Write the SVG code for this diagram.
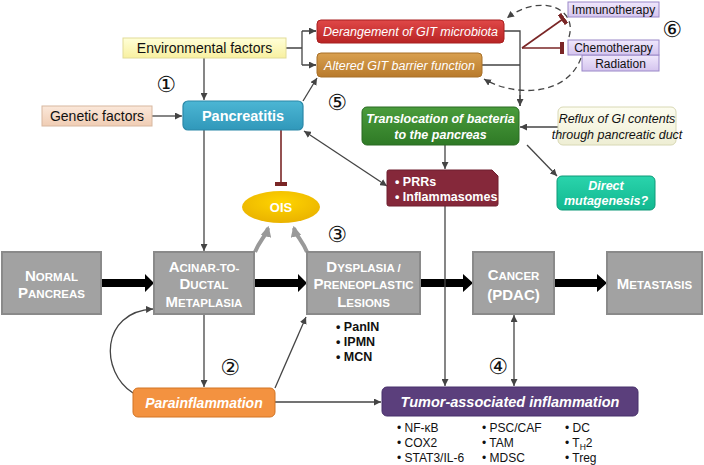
<svg xmlns="http://www.w3.org/2000/svg" width="704" height="465" viewBox="0 0 704 465">
<defs>
<style>
text{font-family:"Liberation Sans",Arial,sans-serif;}
.w{fill:#fff;font-weight:bold;}
.wi{fill:#fff;font-weight:bold;font-style:italic;}
.gbox{fill:#a2a2a2;stroke:#8a8a8a;stroke-width:2;}
.big{font-size:15px;}
.sm{font-size:11.5px;}
.con{fill:none;stroke:#444;stroke-width:1.3;}
.inh{fill:none;stroke:#7a2626;stroke-width:1.6;}
.num{font-family:"DejaVu Sans",sans-serif;font-size:22px;fill:#111;text-anchor:middle;}
.lst{font-size:12px;fill:#111;}
.blk{fill:#000;}
</style>
<linearGradient id="gRed" x1="0" y1="0" x2="0" y2="1"><stop offset="0" stop-color="#e04848"/><stop offset="1" stop-color="#b82424"/></linearGradient>
<linearGradient id="gTan" x1="0" y1="0" x2="0" y2="1"><stop offset="0" stop-color="#d9a050"/><stop offset="1" stop-color="#b87a2c"/></linearGradient>
<linearGradient id="gGreen" x1="0" y1="0" x2="0" y2="1"><stop offset="0" stop-color="#4a9c3c"/><stop offset="1" stop-color="#2f7a26"/></linearGradient>
<linearGradient id="gBlue" x1="0" y1="0" x2="0" y2="1"><stop offset="0" stop-color="#4cb6d4"/><stop offset="1" stop-color="#3098ba"/></linearGradient>
<linearGradient id="gYel" x1="0" y1="0" x2="0" y2="1"><stop offset="0" stop-color="#ffffd8"/><stop offset="1" stop-color="#f8f0a0"/></linearGradient>
<linearGradient id="gPeach" x1="0" y1="0" x2="0" y2="1"><stop offset="0" stop-color="#fbe8da"/><stop offset="1" stop-color="#f0cdb4"/></linearGradient>
<linearGradient id="gLav" x1="0" y1="0" x2="0" y2="1"><stop offset="0" stop-color="#f0e8fc"/><stop offset="1" stop-color="#d4c4ee"/></linearGradient>
<linearGradient id="gCream" x1="0" y1="0" x2="0" y2="1"><stop offset="0" stop-color="#fdfdf0"/><stop offset="1" stop-color="#eeeed4"/></linearGradient>
<radialGradient id="gOIS" cx="0.5" cy="0.35" r="0.7"><stop offset="0" stop-color="#ffd400"/><stop offset="1" stop-color="#e8b000"/></radialGradient>
<linearGradient id="gTeal" x1="0" y1="0" x2="0" y2="1"><stop offset="0" stop-color="#2ad4ac"/><stop offset="1" stop-color="#12b890"/></linearGradient>
<marker id="ar" viewBox="0 0 10 10" refX="10" refY="5" markerWidth="7" markerHeight="7" markerUnits="userSpaceOnUse" orient="auto-start-reverse"><path d="M0,0 L10,5 L0,10 z" fill="#444"/></marker>
<marker id="arG" viewBox="0 0 10 10" refX="8" refY="5" markerWidth="11" markerHeight="11" markerUnits="userSpaceOnUse" orient="auto"><path d="M0,0 L10,5 L0,10 z" fill="#999"/></marker>
<marker id="bar" viewBox="0 0 4 12" refX="2" refY="6" markerWidth="4" markerHeight="12" markerUnits="userSpaceOnUse" orient="auto"><rect x="0" y="0" width="4" height="12" fill="#7a2626"/></marker>
</defs>
<rect width="704" height="465" fill="#fff"/>

<g id="connectors">
<path class="con" d="M204,58 V100" marker-end="url(#ar)"/>
<path class="con" d="M152,116 H182" marker-end="url(#ar)"/>
<path class="con" d="M286,48 H302 M302,31 V65 M302,31 H316 M302,65 H316" />
<path class="con" d="M309,31 H316" marker-end="url(#ar)"/>
<path class="con" d="M309,65 H316" marker-end="url(#ar)"/>
<path class="con" d="M303,101 L317,78" marker-end="url(#ar)"/>
<path class="con" d="M504,31 H520 V106 M482,65 H520"/>
<path class="con" d="M520,95 V106" marker-end="url(#ar)"/>
<path class="con" d="M558,127 H520" marker-end="url(#ar)"/>
<path class="con" d="M445,145 V169" marker-end="url(#ar)"/>
<path class="con" d="M527,145 L557,176" marker-end="url(#ar)"/>
<path class="con" d="M304,131 L387,186" marker-start="url(#ar)" marker-end="url(#ar)"/>
<path class="con" d="M204,130 V251" marker-end="url(#ar)"/>
<path class="inh" d="M281,130 V184" marker-end="url(#bar)"/>
<path class="inh" d="M522,48 L563,19" marker-end="url(#bar)"/>
<path class="inh" d="M522,48 H562" marker-end="url(#bar)"/>
<path d="M569,37 C578,6 538,-6 507,18" fill="none" stroke="#444" stroke-width="1.3" stroke-dasharray="6,4" marker-end="url(#ar)"/>
<path d="M581,58 C566,98 512,96 484,79" fill="none" stroke="#444" stroke-width="1.3" stroke-dasharray="6,4" marker-end="url(#ar)"/>
<path d="M255,252 C260,240 266,236 268,228" fill="none" stroke="#999" stroke-width="4" marker-end="url(#arG)"/>
<path d="M307,252 C302,240 296,236 294,228" fill="none" stroke="#999" stroke-width="4" marker-end="url(#arG)"/>
<polygon class="blk" points="101,279 145,279 145,274 154,283 145,292 145,287 101,287"/>
<polygon class="blk" points="254,279 298,279 298,274 307,283 298,292 298,287 254,287"/>
<polygon class="blk" points="420,279 463,279 463,274 473,283 463,292 463,287 420,287"/>
<polygon class="blk" points="554,279 597,279 597,274 607,283 597,292 597,287 554,287"/>
<path class="con" d="M204,314 V387" marker-end="url(#ar)"/>
<path class="con" d="M275,388 L306,317" marker-end="url(#ar)"/>
<path class="con" d="M133,393 C100,372 100,312 153,309" marker-end="url(#ar)"/>
<path class="con" d="M275,402 H381" marker-end="url(#ar)"/>
<path class="con" d="M445,206 V386" marker-end="url(#ar)"/>
<path class="con" d="M514,315 V386" marker-start="url(#ar)" marker-end="url(#ar)"/>
</g>

<g id="environmental">
<rect x="123" y="38" width="163" height="20" fill="url(#gYel)" stroke="#e2dc98"/>
<text x="204.5" y="53" font-size="14" text-anchor="middle" fill="#111">Environmental factors</text>
</g>
<g id="genetic">
<rect x="42" y="106" width="110" height="20" fill="url(#gPeach)" stroke="#d8b8a0"/>
<text x="97" y="121" font-size="14" text-anchor="middle" fill="#111">Genetic factors</text>
</g>
<g id="pancreatitis">
<rect x="183" y="101" width="120" height="29" rx="5" fill="url(#gBlue)" stroke="#2a88a8" stroke-width="1.2"/>
<text x="243" y="121" class="w" font-size="14.5" text-anchor="middle">Pancreatitis</text>
</g>
<g id="derangement">
<rect x="317" y="20" width="187" height="23" rx="4" fill="url(#gRed)" stroke="#a82020"/>
<text x="410.5" y="36" font-size="12.5" font-style="italic" fill="#fff" text-anchor="middle">Derangement of GIT microbiota</text>
</g>
<g id="altered">
<rect x="317" y="53" width="165" height="24" rx="4" fill="url(#gTan)" stroke="#a87028"/>
<text x="399.5" y="70" font-size="12.5" font-style="italic" fill="#fff" text-anchor="middle">Altered GIT barrier function</text>
</g>
<g id="immunotherapy">
<rect x="568" y="2" width="91" height="15" fill="url(#gLav)" stroke="#9a88c8"/>
<text x="613.5" y="14" font-size="12" fill="#111" text-anchor="middle">Immunotherapy</text>
</g>
<g id="radiation">
<rect x="582" y="55" width="77" height="16" fill="url(#gLav)" stroke="#9a88c8"/>
<text x="620.5" y="67.5" font-size="12" fill="#111" text-anchor="middle">Radiation</text>
</g>
<g id="chemotherapy">
<rect x="568" y="40" width="91" height="15" fill="url(#gLav)" stroke="#9a88c8"/>
<text x="613.5" y="52" font-size="12" fill="#111" text-anchor="middle">Chemotherapy</text>
</g>
<g id="translocation">
<rect x="362" y="107" width="157" height="38" rx="5" fill="url(#gGreen)" stroke="#2a6a22"/>
<text x="440.5" y="123" class="wi" font-size="12.5" text-anchor="middle">Translocation of bacteria</text>
<text x="440.5" y="139" class="wi" font-size="12.5" text-anchor="middle">to the pancreas</text>
</g>
<g id="reflux">
<rect x="558" y="107" width="118" height="38" rx="5" fill="url(#gCream)" stroke="#d8d8b4"/>
<text x="617" y="123" font-size="12.5" font-style="italic" fill="#111" text-anchor="middle">Reflux of GI contents</text>
<text x="617" y="139" font-size="12.5" font-style="italic" fill="#111" text-anchor="middle">through pancreatic duct</text>
</g>
<g id="prrs">
<path d="M387,172 Q387,170 389,170 H492 L498,176 V204 Q498,206 496,206 H389 Q387,206 387,204 Z" fill="#85283a" stroke="#6e1e2e"/>
<text x="395" y="186" class="w" font-size="12.5">• PRRs</text>
<text x="395" y="201" class="w" font-size="12.5">• Inflammasomes</text>
</g>
<g id="mutagenesis">
<rect x="557" y="176" width="98" height="34" rx="5" fill="url(#gTeal)" stroke="#0e9a78"/>
<text x="606" y="190" class="wi" font-size="12.5" text-anchor="middle">Direct</text>
<text x="606" y="205" class="wi" font-size="12.5" text-anchor="middle">mutagenesis?</text>
</g>
<g id="ois">
<ellipse cx="281" cy="207" rx="39" ry="16" fill="url(#gOIS)"/>
<text x="281" y="212" class="w" font-size="13" text-anchor="middle">OIS</text>
</g>
<g id="normal">
<rect class="gbox" x="2" y="252" width="99" height="62"/>
<text x="51.5" y="281" class="w" text-anchor="middle"><tspan class="big">N</tspan><tspan class="sm">ORMAL</tspan></text>
<text x="51.5" y="298" class="w" text-anchor="middle"><tspan class="big">P</tspan><tspan class="sm">ANCREAS</tspan></text>
</g>
<g id="acinar">
<rect class="gbox" x="154" y="252" width="100" height="62"/>
<text x="204" y="272" class="w" text-anchor="middle"><tspan class="big">A</tspan><tspan class="sm">CINAR-TO-</tspan></text>
<text x="204" y="289" class="w" text-anchor="middle"><tspan class="big">D</tspan><tspan class="sm">UCTAL</tspan></text>
<text x="204" y="307" class="w" text-anchor="middle"><tspan class="big">M</tspan><tspan class="sm">ETAPLASIA</tspan></text>
</g>
<g id="dysplasia">
<rect class="gbox" x="307" y="252" width="113" height="62"/>
<text x="363.5" y="272" class="w" text-anchor="middle"><tspan class="big">D</tspan><tspan class="sm">YSPLASIA /</tspan></text>
<text x="363.5" y="289" class="w" text-anchor="middle"><tspan class="big">P</tspan><tspan class="sm">RENEOPLASTIC</tspan></text>
<text x="363.5" y="307" class="w" text-anchor="middle"><tspan class="big">L</tspan><tspan class="sm">ESIONS</tspan></text>
<text x="336" y="331" font-size="12.5" font-weight="bold" fill="#111">• PanIN</text>
<text x="336" y="346" font-size="12.5" font-weight="bold" fill="#111">• IPMN</text>
<text x="336" y="361" font-size="12.5" font-weight="bold" fill="#111">• MCN</text>
</g>
<g id="cancer">
<rect class="gbox" x="473" y="252" width="81" height="62"/>
<text x="513.5" y="280" class="w" text-anchor="middle"><tspan class="big">C</tspan><tspan class="sm">ANCER</tspan></text>
<text x="513.5" y="300" class="w big" text-anchor="middle">(PDAC)</text>
</g>
<g id="metastasis">
<rect class="gbox" x="607" y="252" width="95" height="62"/>
<text x="654.5" y="289" class="w" text-anchor="middle"><tspan class="big">M</tspan><tspan class="sm">ETASTASIS</tspan></text>
</g>
<g id="parainflammation">
<rect x="133" y="388" width="142" height="29" rx="5" fill="#f39240" stroke="#d27424"/>
<text x="204" y="408" class="wi" font-size="14" text-anchor="middle">Parainflammation</text>
</g>
<g id="tumor">
<rect x="382" y="387" width="256" height="29" rx="5" fill="#5b3f7c" stroke="#47306a"/>
<text x="510" y="407" class="wi" font-size="14.5" text-anchor="middle">Tumor-associated inflammation</text>
<text class="lst" x="397" y="432">• NF-κB</text>
<text class="lst" x="397" y="447">• COX2</text>
<text class="lst" x="397" y="462">• STAT3/IL-6</text>
<text class="lst" x="482" y="432">• PSC/CAF</text>
<text class="lst" x="482" y="447">• TAM</text>
<text class="lst" x="482" y="462">• MDSC</text>
<text class="lst" x="565" y="432">• DC</text>
<text class="lst" x="565" y="447">• T<tspan font-size="8.5" dy="3">H</tspan><tspan dy="-3">2</tspan></text>
<text class="lst" x="565" y="462">• Treg</text>
</g>
<g id="labels">
<text class="num" x="166" y="92">①</text>
<text class="num" x="337" y="110">⑤</text>
<text class="num" x="672" y="37">⑥</text>
<text class="num" x="337" y="242">③</text>
<text class="num" x="230" y="375">②</text>
<text class="num" x="498" y="374">④</text>
</g>
</svg>
